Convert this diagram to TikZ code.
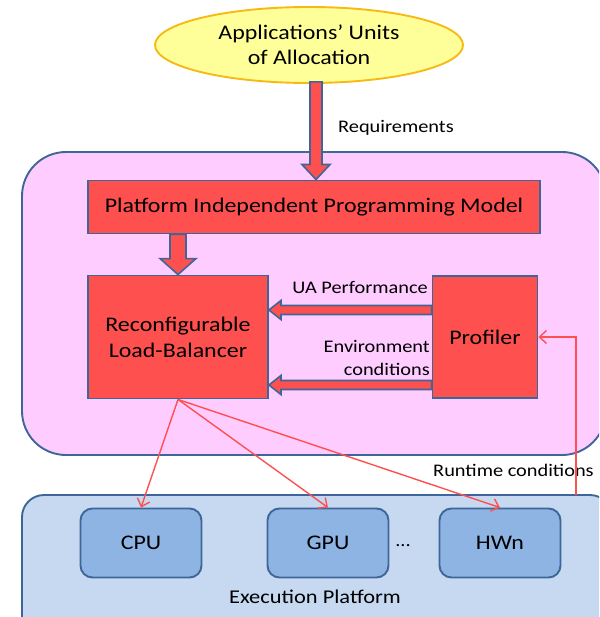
\documentclass[tikz,border=0pt]{standalone}
\usepackage{fontspec}
\setmainfont{Carlito}[FakeStretch=1.15]
\usetikzlibrary{arrows.meta,shapes.geometric,calc}

\definecolor{boxred}{RGB}{255,80,80}
\definecolor{edgeblue}{RGB}{62,102,152}
\definecolor{pimpink}{RGB}{255,204,255}
\definecolor{execblue}{RGB}{198,217,241}
\definecolor{hwblue}{RGB}{142,180,227}
\definecolor{uoayellow}{RGB}{255,255,153}
\definecolor{uoaorange}{RGB}{247,185,20}

\tikzset{
  redbox/.style={draw=edgeblue, line width=1.9pt, fill=boxred, inner sep=0pt, align=center, font=\fontsize{20.8}{26}\selectfont},
  hwbox/.style={draw=edgeblue, line width=1.9pt, fill=hwblue, rounded corners=12pt, minimum width=121pt, minimum height=69pt, font=\fontsize{20.8}{24}\selectfont},
  lbl/.style={inner sep=0pt, font=\fontsize{17.7}{23}\selectfont},
  blockarrow/.style={draw=edgeblue, line width=1.6pt, fill=boxred, line join=miter},
  thinarrow/.style={draw=boxred, line width=1.4pt, -{Straight Barb[length=7pt,width=13pt]}},
}

% block arrow: from, to, half shaft, half head, head length
\newcommand{\blockarrow}[5]{%
  \filldraw[blockarrow] let \p1=(#1), \p2=(#2), \n1={atan2(\y2-\y1,\x2-\x1)}, \n2={veclen(\x2-\x1,\y2-\y1)} in
    [shift={(\p1)}, rotate=\n1] (0,#3) -- (\n2-#5,#3) -- (\n2-#5,#4) -- (\n2,0) -- (\n2-#5,-#4) -- (\n2-#5,-#3) -- (0,-#3) -- cycle;}

\begin{document}
\begin{tikzpicture}[x=1pt, y=-1pt]
    \useasboundingbox (0,0) rectangle (599,617);
    \clip (0,0) rectangle (599,617);
    % Containers
    \draw[edgeblue, line width=1.9pt, fill=pimpink, rounded corners=44pt] (22,152) rectangle (606,455);
    \draw[edgeblue, line width=1.9pt, fill=execblue, rounded corners=22pt] (22,495) rectangle (612,660);
    % Units of allocation
    \node[ellipse, draw=uoaorange, line width=1.9pt, fill=uoayellow, minimum width=308pt, minimum height=76pt, inner sep=0pt, align=center, font=\fontsize{20.8}{25}\selectfont] (uoa) at (309,45) {Applications’ Units\\of Allocation};
    % Platform boxes
    \node[redbox, minimum width=452pt, minimum height=53pt] (pipm) at (314,207) {Platform Independent Programming Model};
    \node[redbox, minimum width=180pt, minimum height=123pt] (rlb) at (178,337) {Reconfigurable\\Load-Balancer};
    \node[redbox, minimum width=105pt, minimum height=122pt] (prof) at (485,337) {Profiler};
    % Hardware
    \node[hwbox] (cpu) at (141,543) {CPU};
    \node[hwbox] (gpu) at (328,543) {GPU};
    \node[hwbox] (hwn) at (500,543) {HWn};
    \node[lbl] (dots) at (403,546) {...};
    \node[lbl, font=\fontsize{19.5}{23}\selectfont] (exec) at (315,597) {Execution Platform};
    % Labels
    \node[lbl, anchor=west] (req) at (338,128) {Requirements};
    \node[lbl, anchor=east] (uaperf) at (428,287) {UA Performance};
    \node[lbl, anchor=east, align=right] (envcond) at (430,358) {Environment\\conditions};
    \node[lbl, anchor=west] (runtime) at (433,470) {Runtime conditions};
    % Block arrows
    \blockarrow{$(uoa.south)+(7,-2)$}{$(pipm.north)+(2,0)$}{6}{14}{15}
    \blockarrow{pipm.south -| rlb.north}{rlb.north}{8}{18}{16}
    \blockarrow{$(prof.west)+(0,-27)$}{$(rlb.east)+(0,-27)$}{4.5}{9.5}{12}
    \blockarrow{$(prof.west)+(0,48)$}{$(rlb.east)+(0,48)$}{4.5}{9.5}{12}
    % Dispatch and feedback
    \draw[thinarrow] (rlb.south) -- (cpu.north);
    \draw[thinarrow] (rlb.south) -- (gpu.north);
    \draw[thinarrow] (rlb.south) -- (hwn.north);
    \coordinate (rtfoot) at (576,495);
    \draw[thinarrow] (rtfoot) |- (prof.east);
\end{tikzpicture}
\end{document}
